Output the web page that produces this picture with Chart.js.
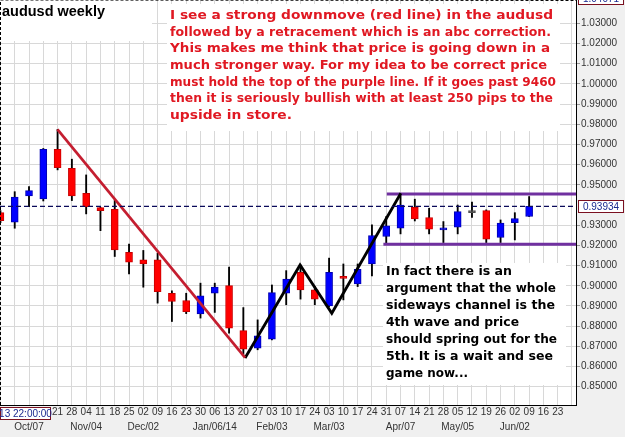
<!DOCTYPE html>
<html><head><meta charset="utf-8">
<script src="https://cdn.jsdelivr.net/npm/chart.js@4/dist/chart.umd.min.js"></script>
<style>html,body{margin:0;padding:0;background:#f0f0f0;}#wrap{width:625px;height:437px;}</style>
</head><body><div id="wrap"><canvas id="c" width="625" height="437"></canvas></div>
<script>
// ---- DATA ----
const weekLabels = ['23','30','07','14','21','28','04','11','18','25','02','09','16','23','30','06','13','20','27','03','10','17','24','03','10','17','24','31','07','14','21','28','05','12','19','26','02','09','16','23'];
const monthLabels = {2:'Oct/07',6:'Nov/04',10:'Dec/02',15:'Jan/06/14',19:'Feb/03',23:'Mar/03',28:'Apr/07',32:'May/05',36:'Jun/02'};
const firstLabelled = 4;
const openP  = [0.9362,0.9315,0.9445,0.9430,0.9676,0.9582,0.9458,0.9387,0.9379,0.9166,0.9128,0.9128,0.8963,0.8927,0.8861,0.8963,0.9001,0.8778,0.8691,0.8736,0.8963,0.9067,0.8980,0.8900,0.9040,0.9009,0.9108,0.9244,0.9285,0.9389,0.9338,0.9277,0.9290,0.9362,0.9372,0.9239,0.9313,0.9343];
const highP  = [0.9372,0.9466,0.9491,0.9680,0.9775,0.9627,0.9549,0.9389,0.9425,0.9207,0.9175,0.9162,0.8975,0.8963,0.9013,0.9013,0.9092,0.8892,0.8831,0.9004,0.9075,0.9103,0.8996,0.9137,0.9108,0.9108,0.9302,0.9343,0.9450,0.9429,0.9384,0.9318,0.9400,0.9414,0.9376,0.9326,0.9362,0.9442];
const lowP   = [0.9312,0.9285,0.9392,0.9420,0.9574,0.9422,0.9356,0.9273,0.9145,0.9059,0.8993,0.8914,0.8823,0.8862,0.8840,0.8868,0.8765,0.8660,0.8683,0.8732,0.8906,0.8934,0.8906,0.8897,0.8930,0.8996,0.9049,0.9211,0.9257,0.9321,0.9257,0.9214,0.9257,0.9338,0.9214,0.9214,0.9227,0.9343];
const closeP = [0.9323,0.9439,0.9471,0.9676,0.9585,0.9445,0.9392,0.9372,0.9178,0.9117,0.9108,0.8971,0.8922,0.8872,0.8950,0.8993,0.8790,0.8686,0.8752,0.8966,0.9033,0.8980,0.8934,0.9067,0.9037,0.9082,0.9249,0.9297,0.9400,0.9331,0.9280,0.9283,0.9367,0.9362,0.9231,0.9310,0.9333,0.93934];
const yTickValues = [0.85,0.86,0.87,0.88,0.89,0.90,0.91,0.92,0.93,0.95,0.96,0.97,0.98,0.99,1.00,1.01,1.02,1.03];
const redLine    = [{x:3.99,y:0.9775},{x:17.12,y:0.8644}];
const abcLine    = [{x:17.12,y:0.8642},{x:20.97,y:0.9103},{x:23.19,y:0.8864},{x:28.02,y:0.9458}];
const purpleTop  = 0.94545, purpleTopStart = 27.04;
const purpleBot  = 0.92055, purpleBotStart = 26.8;
const lastPrice  = 0.93934;
const topPrice   = 1.04071;
const cursorTime = '13 22:00:00';
const chartTitle = 'audusd weekly';
const redNote = [
 'I see a strong downmove (red line) in the audusd',
 'followed by a retracement which is an abc correction.',
 'Yhis makes me think that price is going down in a',
 'much stronger way. For my idea to be correct price',
 'must hold the top of the purple line. If it goes past 9460',
 'then it is seriously bullish with at least 250 pips to the',
 'upside in store.'];
const blackNote = [
 'In fact there is an',
 'argument that the whole',
 'sideways channel is the',
 '4th wave and price',
 'should spring out for the',
 '5th. It is a wait and see',
 'game now...'];

// ---- LAYOUT / STYLE ----
const redNoteWidths   = [383,381,380,377,386,383,122];
const blackNoteWidths = [126,170,169,133,171,167,82];
const xMin = -0.03, xMax = 40.28, yMin = 0.84095, yMax = 1.04154;
const UP='#0000ff', DOWN='#ff0000', FLAT='#505050';
const bodyColors = openP.map((o,i)=> closeP[i]>o?UP:(closeP[i]<o?DOWN:FLAT));
const bodyBorders = openP.map((o,i)=> closeP[i]>o?'#0000b0':(closeP[i]<o?'#c80000':FLAT));

function fitText(c,t,x,y,w){
  const nat=c.measureText(t).width;
  c.save(); c.translate(x,y); c.scale(w/nat,1); c.fillText(t,0,0); c.restore();
}

const deco = {
  id:'deco',
  beforeDraw(chart){
    const c=chart.ctx, a=chart.chartArea;
    c.save(); c.fillStyle='#f0f0f0'; c.fillRect(0,0,chart.width,chart.height);
    c.fillStyle='#ffffff'; c.fillRect(a.left,a.top,a.right-a.left,a.bottom-a.top); c.restore();
  },
  beforeDatasetsDraw(chart){
    const c=chart.ctx;
    c.save();
    c.fillStyle='#ffffff';
    c.fillRect(0,0,152,41);
    c.fillRect(167,4,393,127);
    c.fillRect(383,263,183,122);
    c.fillStyle='#000'; c.font='bold 14px "Liberation Sans", Arial, sans-serif'; c.textBaseline='middle'; c.textAlign='left';
    fitText(c,chartTitle,2,12.5,103);
    c.font='bold 13px "DejaVu Sans", Verdana, sans-serif';
    c.fillStyle='#e01822';
    redNote.forEach((t,i)=>fitText(c,t,170,15.5+i*16.67,redNoteWidths[i]));
    c.fillStyle='#000000';
    blackNote.forEach((t,i)=>fitText(c,t,386,272+i*17,blackNoteWidths[i]));
    c.restore();
  },
  afterDraw(chart){
    const c=chart.ctx, a=chart.chartArea, ys=chart.scales.y;
    c.save();
    c.strokeStyle='#000'; c.lineWidth=1; c.setLineDash([3,2]);
    c.beginPath(); c.moveTo(0.5,a.bottom); c.lineTo(0.5,0); c.lineTo(a.right,0.5); c.stroke();
    c.setLineDash([]);
    function box(x,y,w,h,t){
      c.fillStyle='#ffffff'; c.fillRect(x,y,w,h);
      c.strokeStyle='#7a1020'; c.strokeRect(x+0.5,y+0.5,w-1,h-1);
      c.fillStyle='#1a2a90'; c.font='10px "Liberation Sans", Arial, sans-serif'; c.textBaseline='middle'; c.textAlign='center';
      c.fillText(t,x+w/2,y+h/2+0.5);
    }
    const py = ys.getPixelForValue(lastPrice);
    box(578,Math.round(py)-6,46,13,lastPrice.toFixed(5));
    box(578,-8,46,13,topPrice.toFixed(5));
    box(0,407,51,13,cursorTime);
    c.restore();
  }
};

const lineDs = (data,color,w,dash)=>({type:'line',data,borderColor:color,borderWidth:w,borderDash:dash||[],pointRadius:0,fill:false,tension:0,order:0});

new Chart(document.getElementById('c'),{
  type:'bar',
  data:{datasets:[
    lineDs([{x:xMin,y:lastPrice},{x:xMax,y:lastPrice}],'#0a0a5a',1.2,[5,3]),
    lineDs(redLine,'#c41e30',2.7),
    lineDs(abcLine,'#000000',2.8),
    lineDs([{x:purpleTopStart,y:purpleTop},{x:xMax,y:purpleTop}],'#7030a0',3),
    lineDs([{x:purpleBotStart,y:purpleBot},{x:xMax,y:purpleBot}],'#7030a0',3),
    {type:'bar',data:openP.map((o,i)=>({x:i,y:[o,closeP[i]]})),backgroundColor:bodyColors,borderColor:bodyBorders,borderWidth:1,borderSkipped:false,barThickness:7,minBarLength:2,grouped:false,order:1},
    {type:'bar',data:openP.map((o,i)=>({x:i,y:[lowP[i],highP[i]]})),backgroundColor:'#000000',barThickness:1.2,grouped:false,order:2}
  ]},
  options:{
    responsive:false,animation:false,devicePixelRatio:1,
    layout:{padding:0},
    plugins:{legend:{display:false},tooltip:{enabled:false}},
    scales:{
      x:{type:'linear',min:xMin,max:xMax,offset:false,
        grid:{color:'#d8d8d8',drawTicks:false,tickLength:0,offset:false},
        border:{color:'#000',width:1},
        afterBuildTicks(s){ const t=[]; for(let i=0;i<=40;i++) t.push({value:i}); s.ticks=t; },
        ticks:{autoSkip:false,maxRotation:0,minRotation:0,padding:0,color:'#333',
          font:{family:'"Liberation Sans", Arial, sans-serif',size:10,lineHeight:1.5},
          callback(v){ return [v>=firstLabelled && v<weekLabels.length ? weekLabels[v] : '', monthLabels[v]||'']; }},
        afterFit(s){ s.height=32; s.paddingLeft=0; s.paddingRight=0; }
      },
      y:{type:'linear',position:'right',min:yMin,max:yMax,
        grid:{color:'#d8d8d8',drawTicks:true,tickLength:4,tickColor:'#999'},
        border:{color:'#000',width:1},
        afterBuildTicks(s){ s.ticks=yTickValues.map(v=>({value:v})); },
        ticks:{padding:1,color:'#333',font:{family:'"Liberation Sans", Arial, sans-serif',size:10},
          callback(v){ return Number(v).toFixed(5); }},
        afterFit(s){ s.width=49; s.paddingTop=0; s.paddingBottom=0; }
      }
    }
  },
  plugins:[deco]
});
</script></body></html>
